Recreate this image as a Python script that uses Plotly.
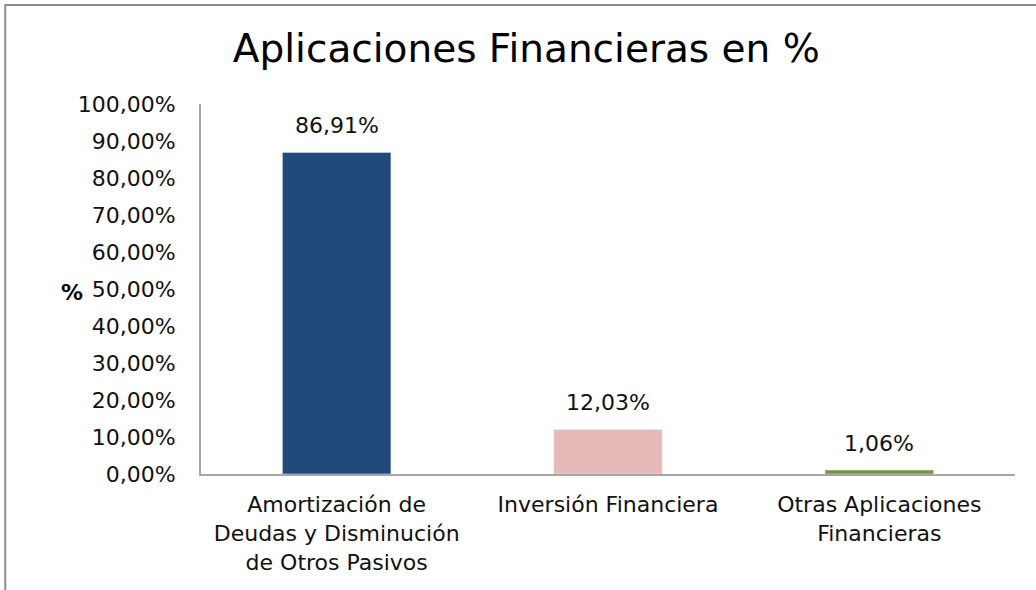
import plotly.graph_objects as go

categories = ["Amortización de<br>Deudas y Disminución<br>de Otros Pasivos",
              "Inversión Financiera",
              "Otras Aplicaciones<br>Financieras"]
values = [86.91, 12.03, 1.06]
labels = ["86,91%", "12,03%", "1,06%"]
colors = ["#214A7B", "#E6B9B8", "#77933C"]
y_ticks = [0, 10, 20, 30, 40, 50, 60, 70, 80, 90, 100]
y_tick_text = ["0,00%", "10,00%", "20,00%", "30,00%", "40,00%", "50,00%",
               "60,00%", "70,00%", "80,00%", "90,00%", "100,00%"]

FONT = "DejaVu Sans"
FS = 22

fig = go.Figure(go.Bar(
    x=categories, y=values, marker_color=colors, width=0.4,
    hoverinfo="skip",
))

value_annotations = [
    dict(x=c, y=v, text=t, xref="x", yref="y", showarrow=False,
         xanchor="center", yanchor="bottom", yshift=12,
         font=dict(size=FS, family=FONT, color="#111111"))
    for c, v, t in zip(categories, values, labels)
]

fig.update_layout(
    width=1036, height=590,
    margin=dict(l=201, r=21, t=104, b=116),
    paper_bgcolor="white", plot_bgcolor="white",
    showlegend=False,
    font=dict(family=FONT, size=FS, color="#111111"),
    title=dict(text="Aplicaciones Financieras en %", x=0.508, xanchor="center",
               y=0.918, yanchor="middle", font=dict(size=39, color="#000000", family=FONT)),
    xaxis=dict(showline=True, linecolor="#A6A6A6", linewidth=2, ticks="",
               tickfont=dict(size=FS, family=FONT), showgrid=False,
               ticklabelstandoff=10),
    yaxis=dict(range=[0, 100], tickvals=y_ticks, ticktext=y_tick_text,
               showline=True, linecolor="#A6A6A6", linewidth=2, showgrid=False,
               ticks="", ticklabelstandoff=19, zeroline=False,
               tickfont=dict(size=FS, family=FONT)),
    shapes=[dict(type="rect", xref="paper", yref="paper",
                 x0=-196/815, x1=1.2, y0=-1, y1=(590-5-116)/370,
                 line=dict(color="#8C8C8C", width=2), layer="below")],
    annotations=value_annotations + [
        dict(text="<b>%</b>", xref="paper", yref="paper",
             x=-129/815, y=(474-292)/370, showarrow=False,
             xanchor="center", yanchor="middle",
             font=dict(size=FS, family=FONT, color="#000000"))],
)

fig.write_html("out.html", config={"displayModeBar": False},
               post_script="document.body.style.margin='0';document.body.style.padding='0';")
